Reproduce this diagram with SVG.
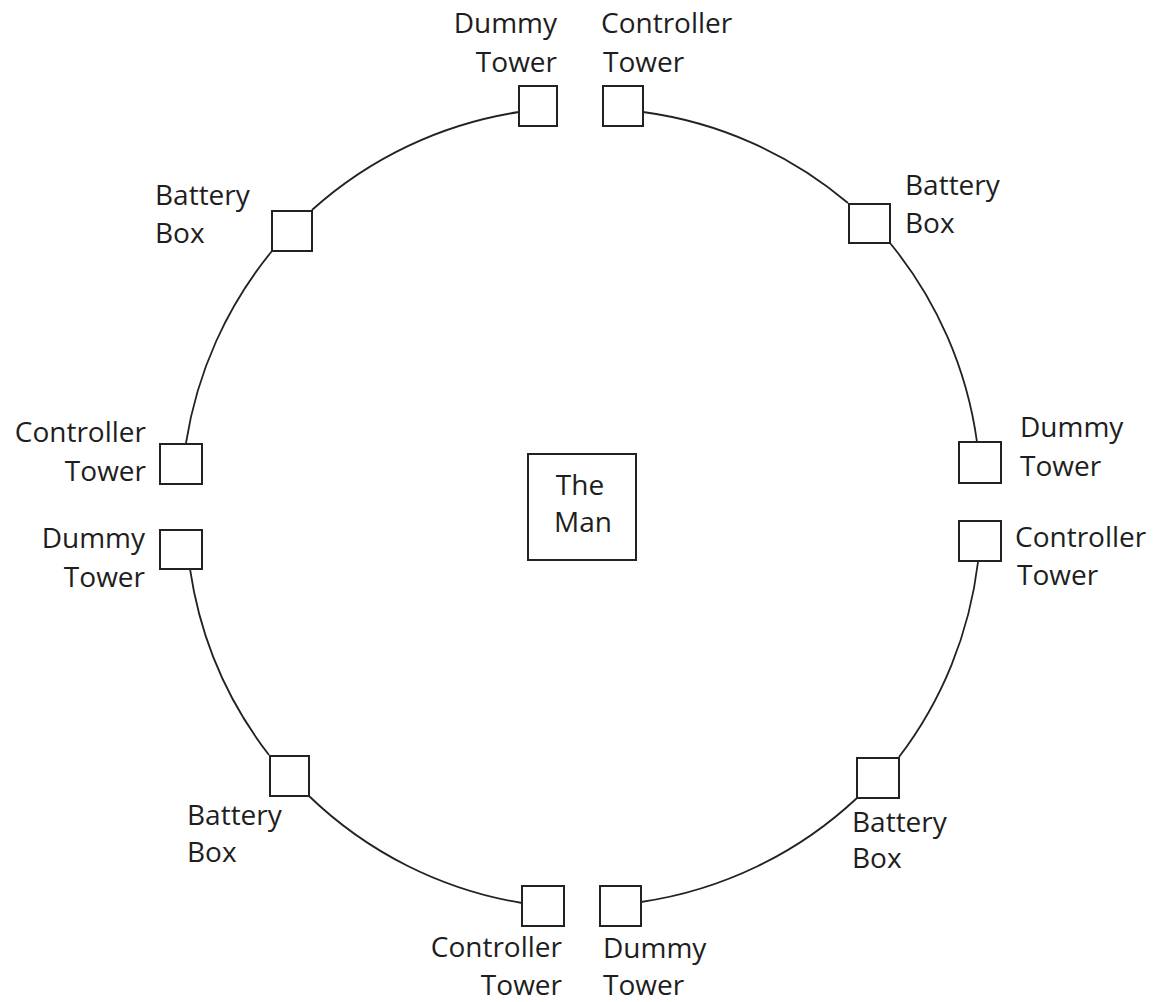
<svg xmlns="http://www.w3.org/2000/svg" width="1153" height="1002" viewBox="0 0 1153 1002">
  <style>
    .box { fill: #ffffff; stroke: #222222; stroke-width: 2; }
    .ring { fill: none; stroke: #222222; stroke-width: 1.8; }
    text { font-family: "Open Sans", "Noto Sans", "Liberation Sans", sans-serif; font-size: 28px; fill: #1e1e1e; }
    .r { text-anchor: end; }
    .c { text-anchor: middle; }
  </style>
  <rect width="1153" height="1002" fill="#ffffff"/>

  <!-- ring segments between the perimeter units -->
  <g id="connectors">
    <path class="ring" d="M186,443 A400,400 0 0 1 272,251"/>
    <path class="ring" d="M312,210 A400,400 0 0 1 519,112"/>
    <path class="ring" d="M643,112 A400,400 0 0 1 848,203"/>
    <path class="ring" d="M890,243 A400,400 0 0 1 977,442"/>
    <path class="ring" d="M978,562 A400,400 0 0 1 899,757"/>
    <path class="ring" d="M857,798 A400,400 0 0 1 641,902"/>
    <path class="ring" d="M522,903 A400,400 0 0 1 309,796"/>
    <path class="ring" d="M269,755 A400,400 0 0 1 190,569"/>
  </g>

  <g id="the-man">
    <rect class="box" x="528" y="454" width="108" height="106"/>
    <text class="c" x="580" y="495">The</text>
    <text class="c" x="583" y="532">Man</text>
  </g>

  <g id="dummy-tower-top">
    <rect class="box" x="519" y="86" width="38" height="40"/>
    <text class="r" x="557" y="33">Dummy</text>
    <text class="r" x="557" y="72">Tower</text>
  </g>

  <g id="controller-tower-top">
    <rect class="box" x="603" y="86" width="40" height="40"/>
    <text x="601" y="33">Controller</text>
    <text x="603" y="72">Tower</text>
  </g>

  <g id="battery-box-top-left">
    <rect class="box" x="272" y="211" width="40" height="40"/>
    <text x="155" y="205">Battery</text>
    <text x="155" y="243">Box</text>
  </g>

  <g id="battery-box-top-right">
    <rect class="box" x="849" y="204" width="41" height="39"/>
    <text x="905" y="195">Battery</text>
    <text x="905" y="233">Box</text>
  </g>

  <g id="controller-tower-left">
    <rect class="box" x="160" y="444" width="42" height="40"/>
    <text class="r" x="146" y="442">Controller</text>
    <text class="r" x="146" y="481">Tower</text>
  </g>

  <g id="dummy-tower-left">
    <rect class="box" x="160" y="530" width="42" height="39"/>
    <text class="r" x="145" y="548">Dummy</text>
    <text class="r" x="145" y="587">Tower</text>
  </g>

  <g id="dummy-tower-right">
    <rect class="box" x="959" y="442" width="42" height="41"/>
    <text x="1020" y="437">Dummy</text>
    <text x="1020" y="476">Tower</text>
  </g>

  <g id="controller-tower-right">
    <rect class="box" x="959" y="521" width="42" height="40"/>
    <text x="1015" y="547">Controller</text>
    <text x="1017" y="585">Tower</text>
  </g>

  <g id="battery-box-bottom-left">
    <rect class="box" x="270" y="756" width="39" height="40"/>
    <text x="187" y="825">Battery</text>
    <text x="187" y="862">Box</text>
  </g>

  <g id="battery-box-bottom-right">
    <rect class="box" x="857" y="758" width="42" height="40"/>
    <text x="852" y="832">Battery</text>
    <text x="852" y="868">Box</text>
  </g>

  <g id="controller-tower-bottom">
    <rect class="box" x="522" y="886" width="42" height="40"/>
    <text class="r" x="562" y="957">Controller</text>
    <text class="r" x="562" y="995">Tower</text>
  </g>

  <g id="dummy-tower-bottom">
    <rect class="box" x="600" y="886" width="41" height="40"/>
    <text x="603" y="958">Dummy</text>
    <text x="603" y="995">Tower</text>
  </g>
</svg>
